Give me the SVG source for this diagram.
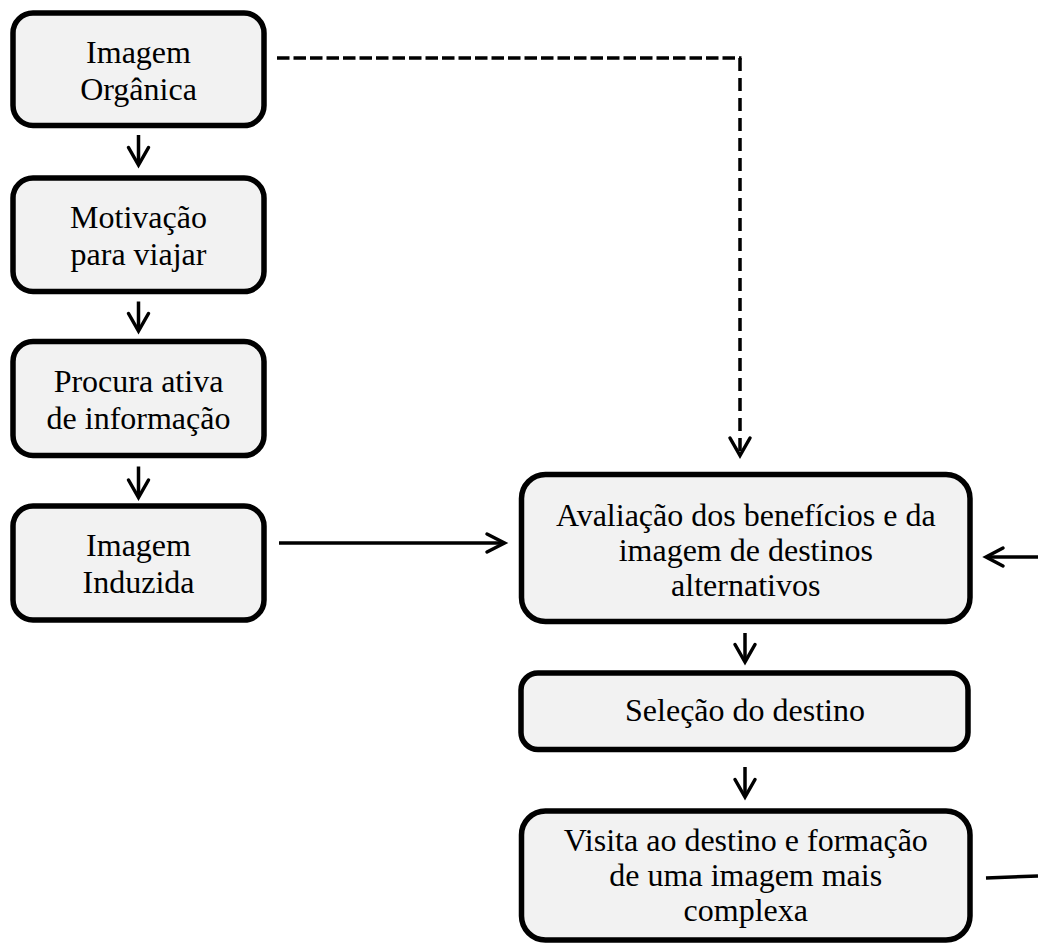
<svg xmlns="http://www.w3.org/2000/svg" width="1038" height="951" viewBox="0 0 1038 951">
  <style>
    .box { fill: #f2f2f2; stroke: #000; stroke-width: 5.5; }
    .lbl { font-family: "Liberation Serif", "Times New Roman", serif; font-size: 32px; fill: #000; text-anchor: middle; }
    .conn { fill: none; stroke: #000; stroke-width: 3.5; }
    .dash-h { stroke-dasharray: 12.5 4; }
    .dash-v { stroke-dasharray: 13 7; }
    .head { fill: none; stroke: #000; stroke-width: 3.5; stroke-linecap: round; stroke-linejoin: miter; }
  </style>

  <!-- left column -->
  <g id="imagem-organica">
    <rect class="box" x="13" y="13" width="251" height="112.5" rx="20"/>
    <text class="lbl" x="138.5" y="63">Imagem</text>
    <text class="lbl" x="138.5" y="100">Orgânica</text>
  </g>
  <g id="motivacao">
    <rect class="box" x="13" y="178" width="251" height="113.5" rx="20"/>
    <text class="lbl" x="138.5" y="228">Motivação</text>
    <text class="lbl" x="138.5" y="265">para viajar</text>
  </g>
  <g id="procura">
    <rect class="box" x="13" y="341.5" width="251" height="114" rx="20"/>
    <text class="lbl" x="138.5" y="392">Procura ativa</text>
    <text class="lbl" x="138.5" y="429">de informação</text>
  </g>
  <g id="imagem-induzida">
    <rect class="box" x="13" y="506" width="251" height="114" rx="20"/>
    <text class="lbl" x="138.5" y="556">Imagem</text>
    <text class="lbl" x="138.5" y="593">Induzida</text>
  </g>

  <!-- right column -->
  <g id="avaliacao">
    <rect class="box" x="521.5" y="474.5" width="448.5" height="147" rx="24"/>
    <text class="lbl" x="745.75" y="526">Avaliação dos benefícios e da</text>
    <text class="lbl" x="745.75" y="561">imagem de destinos</text>
    <text class="lbl" x="745.75" y="596">alternativos</text>
  </g>
  <g id="selecao">
    <rect class="box" x="521" y="673" width="447" height="76.5" rx="17"/>
    <text class="lbl" x="745" y="721">Seleção do destino</text>
  </g>
  <g id="visita">
    <rect class="box" x="521.5" y="811" width="448.5" height="129" rx="24"/>
    <text class="lbl" x="745.75" y="851">Visita ao destino e formação</text>
    <text class="lbl" x="745.75" y="886">de uma imagem mais</text>
    <text class="lbl" x="745.75" y="921">complexa</text>
  </g>

  <!-- connectors -->
  <g id="connectors">
    <!-- vertical flow, left column -->
    <line class="conn" x1="138.5" y1="135" x2="138.5" y2="164"/>
    <polyline class="head" points="128.5,147.5 138.5,165 148.5,147.5"/>
    <line class="conn" x1="138.5" y1="301.5" x2="138.5" y2="330"/>
    <polyline class="head" points="128.5,313.5 138.5,331 148.5,313.5"/>
    <line class="conn" x1="138.5" y1="466.5" x2="138.5" y2="496.5"/>
    <polyline class="head" points="128.5,480 138.5,497.5 148.5,480"/>

    <!-- dashed route from organic image to evaluation -->
    <line class="conn dash-h" x1="277" y1="58" x2="741.5" y2="58"/>
    <line class="conn dash-v" x1="740" y1="58" x2="740" y2="454"/>
    <polyline class="head" points="730,438 740,455.5 750,438"/>

    <!-- induced image to evaluation -->
    <line class="conn" x1="279" y1="543" x2="503" y2="543"/>
    <polyline class="head" points="487,534 504.5,543 487,552"/>

    <!-- feedback from the right edge -->
    <line class="conn" x1="988" y1="557" x2="1038" y2="557"/>
    <polyline class="head" points="1003,548 986,557 1003,566"/>
    <line class="conn" x1="986" y1="878" x2="1038" y2="876"/>

    <!-- vertical flow, right column -->
    <line class="conn" x1="745" y1="633" x2="745" y2="661"/>
    <polyline class="head" points="735,644.5 745,662 755,644.5"/>
    <line class="conn" x1="745" y1="767" x2="745" y2="796"/>
    <polyline class="head" points="735,779.5 745,797 755,779.5"/>
  </g>
</svg>
